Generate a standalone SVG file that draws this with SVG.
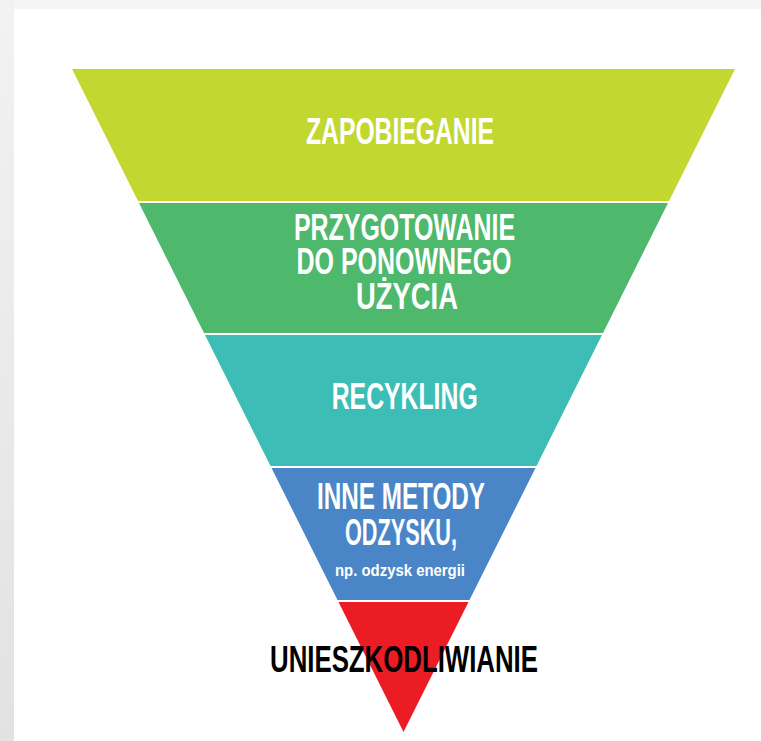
<svg xmlns="http://www.w3.org/2000/svg" width="761" height="741" viewBox="0 0 761 741">
  <defs>
    <linearGradient id="side" x1="0" y1="0" x2="0" y2="1">
      <stop offset="0" stop-color="#f2f2f2"/>
      <stop offset="1" stop-color="#e2e2e2"/>
    </linearGradient>
    <style>
      .lbl { font-family: "Liberation Sans", Arial, sans-serif; font-weight: bold; text-anchor: middle; fill: #ffffff; }
      .big { font-size: 36px; }
      .small { font-size: 17px; }
      .dark { fill: #000000; }
    </style>
  </defs>
  <rect x="0" y="0" width="761" height="741" fill="#ffffff"/>
  <rect x="0" y="0" width="761" height="9" fill="#f5f5f5"/>
  <rect x="0" y="0" width="14" height="741" fill="url(#side)"/>

  <g id="zapobieganie">
    <polygon points="72,69 735,69 669,201 138,201" fill="#c2d72f"/>
    <text class="lbl big" x="400" y="144" textLength="188" lengthAdjust="spacingAndGlyphs">ZAPOBIEGANIE</text>
  </g>
  <g id="przygotowanie">
    <polygon points="139,203 668,203 603,333 204,333" fill="#4eb96c"/>
    <text class="lbl big" x="404.5" y="240" textLength="221" lengthAdjust="spacingAndGlyphs">PRZYGOTOWANIE</text>
    <text class="lbl big" x="404" y="274" textLength="215" lengthAdjust="spacingAndGlyphs">DO PONOWNEGO</text>
    <text class="lbl big" x="407" y="309" textLength="102" lengthAdjust="spacingAndGlyphs">UŻYCIA</text>
  </g>
  <g id="recykling">
    <polygon points="205,335 602,335 536.5,466 270.5,466" fill="#3cbeb7"/>
    <text class="lbl big" x="404.7" y="409" textLength="146" lengthAdjust="spacingAndGlyphs">RECYKLING</text>
  </g>
  <g id="inne-metody">
    <polygon points="271.5,468 535.5,468 469.5,600 337.5,600" fill="#4a86c7"/>
    <text class="lbl big" x="401" y="509" textLength="168" lengthAdjust="spacingAndGlyphs">INNE METODY</text>
    <text class="lbl big" x="401" y="545" textLength="112" lengthAdjust="spacingAndGlyphs">ODZYSKU,</text>
    <text class="lbl small" x="400" y="576" textLength="130" lengthAdjust="spacingAndGlyphs">np. odzysk energii</text>
  </g>
  <g id="unieszkodliwianie">
    <polygon points="338.5,602 468.5,602 403.5,732" fill="#ec1c24"/>
    <text class="lbl big dark" x="404" y="672" textLength="268" lengthAdjust="spacingAndGlyphs">UNIESZKODLIWIANIE</text>
  </g>
  <g id="connectors"/>
</svg>
